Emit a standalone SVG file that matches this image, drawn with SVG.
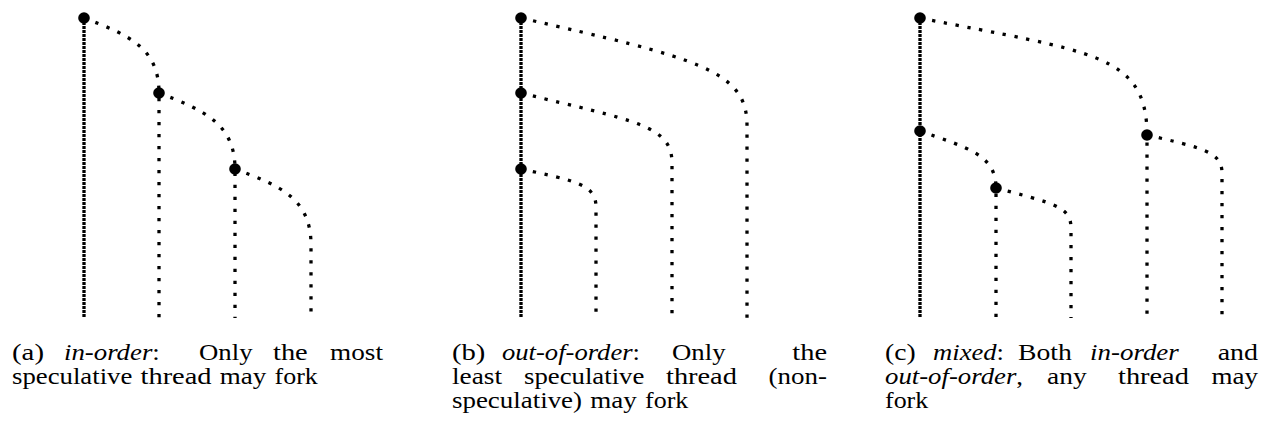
<svg xmlns="http://www.w3.org/2000/svg" width="1270" height="429" viewBox="0 0 1270 429">
<style>
.bg{fill:#fff}
.thr{fill:none;stroke:#000;stroke-width:3.3;stroke-dasharray:3.3 8.7}
.main{fill:none;stroke:#000;stroke-width:3.3;stroke-dasharray:3 1}
.node{fill:#000}
.cap{font-family:"Liberation Serif","Times New Roman",serif;font-size:24px;fill:#000}
.it{font-style:italic}
.up{font-style:normal}
</style>
<rect class="bg" x="0" y="0" width="1270" height="429"/>
<g id="connectors">
  <!-- (a) in-order -->
  <path class="main" d="M84,18 V318"/>
  <path class="thr" d="M84,18 C129,35 159,48 159,93 V318"/>
  <path class="thr" d="M159,93 C204,110 235,124 235,169 V318"/>
  <path class="thr" d="M235,169 C281,186 311,199 311,245 V318"/>
  <!-- (b) out-of-order -->
  <path class="main" d="M521,18 V318"/>
  <path class="thr" d="M521,18 C696,58 747,70 747,125 V318"/>
  <path class="thr" d="M521,93 C634,121 672,125 672,163 V318"/>
  <path class="thr" d="M521,169 C577,181 596,185 596,207 V318"/>
  <!-- (c) mixed -->
  <path class="main" d="M920,18 V318"/>
  <path class="thr" d="M920,18 C1090,52 1147,53 1147,135 V318"/>
  <path class="thr" d="M1147,135 C1203,148 1222,152 1222,173 V318"/>
  <path class="thr" d="M920,131 C966,147.5 996,154 996,188 V318"/>
  <path class="thr" d="M996,188 C1052,203 1071,206 1071,228 V318"/>
</g>
<g id="node-a1"><circle class="node" cx="84" cy="18" r="5.8"/></g>
<g id="node-a2"><circle class="node" cx="159" cy="93" r="5.8"/></g>
<g id="node-a3"><circle class="node" cx="235" cy="169" r="5.8"/></g>
<g id="node-b1"><circle class="node" cx="521" cy="18" r="5.8"/></g>
<g id="node-b2"><circle class="node" cx="521" cy="93" r="5.8"/></g>
<g id="node-b3"><circle class="node" cx="521" cy="169" r="5.8"/></g>
<g id="node-c1"><circle class="node" cx="920" cy="18" r="5.8"/></g>
<g id="node-c2"><circle class="node" cx="920" cy="131" r="5.8"/></g>
<g id="node-c3"><circle class="node" cx="996" cy="188" r="5.8"/></g>
<g id="node-c4"><circle class="node" cx="1147" cy="135" r="5.8"/></g>
<g id="caption-a">
  <text class="cap" x="12" y="360" textLength="32" lengthAdjust="spacingAndGlyphs">(a)</text>
  <text class="cap it" x="64" y="360" textLength="95.8" lengthAdjust="spacingAndGlyphs">in-order<tspan class="up">:</tspan></text>
  <text class="cap" x="199" y="360" textLength="53.5" lengthAdjust="spacingAndGlyphs">Only</text>
  <text class="cap" x="273" y="360" textLength="34.7" lengthAdjust="spacingAndGlyphs">the</text>
  <text class="cap" x="330.1" y="360" textLength="52.9" lengthAdjust="spacingAndGlyphs">most</text>
  <text class="cap" x="12" y="384" textLength="120.3" lengthAdjust="spacingAndGlyphs">speculative</text>
  <text class="cap" x="140.6" y="384" textLength="70.9" lengthAdjust="spacingAndGlyphs">thread</text>
  <text class="cap" x="219.8" y="384" textLength="46.5" lengthAdjust="spacingAndGlyphs">may</text>
  <text class="cap" x="274.6" y="384" textLength="43.2" lengthAdjust="spacingAndGlyphs">fork</text>
</g>
<g id="caption-b">
  <text class="cap" x="452" y="360" textLength="33.4" lengthAdjust="spacingAndGlyphs">(b)</text>
  <text class="cap it" x="502" y="360" textLength="138" lengthAdjust="spacingAndGlyphs">out-of-order<tspan class="up">:</tspan></text>
  <text class="cap" x="672" y="360" textLength="53.5" lengthAdjust="spacingAndGlyphs">Only</text>
  <text class="cap" x="792.3" y="360" textLength="34.7" lengthAdjust="spacingAndGlyphs">the</text>
  <text class="cap" x="452" y="384" textLength="50.1" lengthAdjust="spacingAndGlyphs">least</text>
  <text class="cap" x="524" y="384" textLength="120.3" lengthAdjust="spacingAndGlyphs">speculative</text>
  <text class="cap" x="666" y="384" textLength="70.9" lengthAdjust="spacingAndGlyphs">thread</text>
  <text class="cap" x="768.6" y="384" textLength="58.4" lengthAdjust="spacingAndGlyphs">(non-</text>
  <text class="cap" x="452" y="408" textLength="130" lengthAdjust="spacingAndGlyphs">speculative)</text>
  <text class="cap" x="590.3" y="408" textLength="46.5" lengthAdjust="spacingAndGlyphs">may</text>
  <text class="cap" x="645.1" y="408" textLength="43.2" lengthAdjust="spacingAndGlyphs">fork</text>
</g>
<g id="caption-c">
  <text class="cap" x="885" y="360" textLength="30.6" lengthAdjust="spacingAndGlyphs">(c)</text>
  <text class="cap it" x="933" y="360" textLength="71" lengthAdjust="spacingAndGlyphs">mixed<tspan class="up">:</tspan></text>
  <text class="cap" x="1018" y="360" textLength="53.8" lengthAdjust="spacingAndGlyphs">Both</text>
  <text class="cap it" x="1090" y="360" textLength="88.8" lengthAdjust="spacingAndGlyphs">in-order</text>
  <text class="cap" x="1217.7" y="360" textLength="40.3" lengthAdjust="spacingAndGlyphs">and</text>
  <text class="cap it" x="885" y="384" textLength="138" lengthAdjust="spacingAndGlyphs">out-of-order<tspan class="up">,</tspan></text>
  <text class="cap" x="1047" y="384" textLength="39.6" lengthAdjust="spacingAndGlyphs">any</text>
  <text class="cap" x="1118" y="384" textLength="70.9" lengthAdjust="spacingAndGlyphs">thread</text>
  <text class="cap" x="1211.5" y="384" textLength="46.5" lengthAdjust="spacingAndGlyphs">may</text>
  <text class="cap" x="885" y="408" textLength="43.2" lengthAdjust="spacingAndGlyphs">fork</text>
</g>
</svg>
